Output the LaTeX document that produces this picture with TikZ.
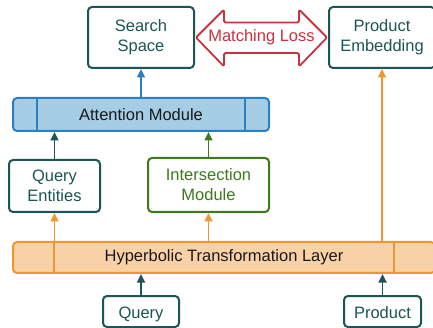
\documentclass[tikz,border=0pt]{standalone}
\usepackage{fontspec}
\setmainfont{Liberation Sans}
\usetikzlibrary{arrows.meta,calc}
\definecolor{teal1}{HTML}{1A5654}
\definecolor{blueB}{HTML}{2B80C1}
\definecolor{blueF}{HTML}{A5CDE5}
\definecolor{orgB}{HTML}{F0962F}
\definecolor{orgF}{HTML}{F8D1A7}
\definecolor{green1}{HTML}{3C7A1E}
\definecolor{red1}{HTML}{C8323F}
\definecolor{txt}{HTML}{1A1A1A}
\tikzset{
  box/.style={draw=teal1, line width=2pt, rounded corners=4pt, fill=white,
    text=teal1, align=center, inner sep=0pt,
    font=\fontsize{16.5}{20}\selectfont},
  wide/.style={box, rounded corners=4pt, text=txt},
  single/.style={text height=13.4pt, text depth=0pt},
  arr/.style={-{Triangle[length=8.5pt,width=8pt]}, line width=1.7pt},
}
\begin{document}
\begin{tikzpicture}[x=1pt,y=-1pt]
\useasboundingbox (0,0) rectangle (433,328);
% nodes
\node[box, minimum width=106pt, minimum height=61pt] (ss) at (141,37.5) {Search\\Space};
\node[box, minimum width=106pt, minimum height=61pt] (pe) at (382,37.5) {Product\\Embedding};
\node[wide, draw=blueB, fill=blueF, minimum width=256pt, minimum height=33pt] (att) at (141,114.5) {Attention Module};
\draw[blueB, line width=2pt] ($(att.north west)+(25,0)$) -- ($(att.south west)+(25,0)$);
\draw[blueB, line width=2pt] ($(att.north east)+(-25,0)$) -- ($(att.south east)+(-25,0)$);
\node[box, minimum width=91pt, minimum height=52pt] (qe) at (54.5,186) {Query\\Entities};
\node[box, draw=green1, text=green1, minimum width=121pt, minimum height=54pt] (im) at (208.5,185) {Intersection\\Module};
\node[wide, draw=orgB, fill=orgF, minimum width=422pt, minimum height=31pt] (hyp) at (224,257.5) {Hyperbolic Transformation Layer};
\draw[orgB, line width=2pt] ($(hyp.north west)+(42,0)$) -- ($(hyp.south west)+(42,0)$);
\draw[orgB, line width=2pt] ($(hyp.north east)+(-42,0)$) -- ($(hyp.south east)+(-42,0)$);
\node[box, single, minimum width=76pt, minimum height=31pt] (q) at (141,311.5) {Query};
\node[box, single, minimum width=77pt, minimum height=31pt] (p) at (382.5,311.5) {Product};
% connectors
\draw[arr, blueB] (att.north) -- (ss.south);
\draw[arr, teal1] (qe.north) -- (qe.north |- att.south);
\draw[arr, green1] (im.north) -- (im.north |- att.south);
\draw[arr, orgB] (hyp.north -| qe.south) -- (qe.south);
\draw[arr, orgB] (hyp.north -| im.south) -- (im.south);
\draw[arr, orgB] (hyp.north -| pe.south) -- (pe.south);
\draw[arr, teal1] (q.north) -- (q.north |- hyp.south);
\draw[arr, teal1] (p.north) -- (p.north |- hyp.south);
% matching loss double arrow
\coordinate (L) at ($(ss.east)+(1,0)$);
\coordinate (R) at ($(pe.west)+(-1,0)$);
\draw[red1, line width=1.8pt, line join=round, rounded corners=1.5pt]
  (L) -- ($(L)+(28,-28)$) -- ($(L)+(28,-15)$) -- ($(R)+(-28,-15)$) -- ($(R)+(-28,-28)$)
  -- (R) -- ($(R)+(-28,29)$) -- ($(R)+(-28,15.5)$) -- ($(L)+(28,15.5)$) -- ($(L)+(28,29)$) -- cycle;
\node[text=red1, font=\fontsize{16.5}{20}\selectfont, inner sep=0pt] (ml) at ($(L)!0.5!(R)$) {Matching Loss};
\end{tikzpicture}
\end{document}
